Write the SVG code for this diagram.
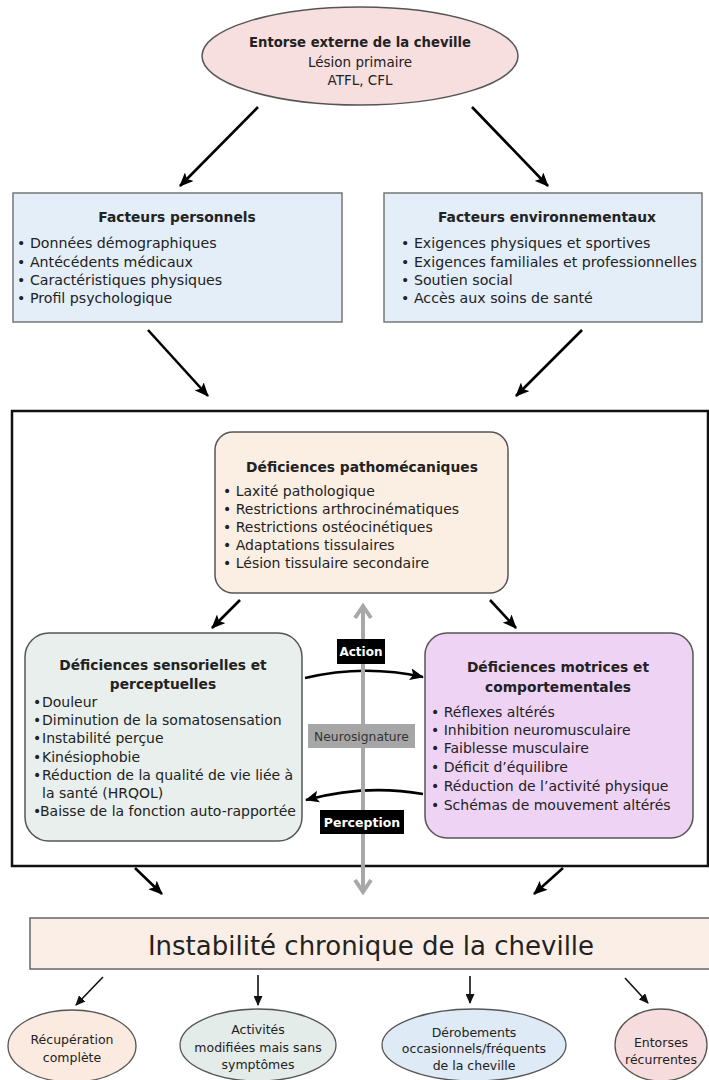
<svg xmlns="http://www.w3.org/2000/svg" width="709" height="1080" viewBox="0 0 709 1080">
<style>
text{font-family:"DejaVu Sans","Liberation Sans",sans-serif;fill:#222}
.t{font-weight:bold;font-size:13.8px;text-anchor:middle}
.b{font-size:14px}
.bf{font-size:14.2px}
.c{text-anchor:middle}
.s{font-size:12.5px;text-anchor:middle}
.conn{stroke:#000;stroke-width:2.6;fill:none}
.thin{stroke:#111;stroke-width:1.6;fill:none}
</style>
<defs>
<marker id="ah" markerUnits="userSpaceOnUse" markerWidth="14" markerHeight="12" refX="13" refY="6" orient="auto">
<path d="M0,0 L14,6 L0,12 L3,6 z" fill="#000"/>
</marker>
<marker id="ahs" markerUnits="userSpaceOnUse" markerWidth="10" markerHeight="9" refX="9" refY="4.5" orient="auto">
<path d="M0,0 L10,4.5 L0,9 z" fill="#111"/>
</marker>
</defs>
<rect width="709" height="1080" fill="#fff"/>

<g id="outer">
<rect x="12" y="411" width="696" height="455" fill="none" stroke="#111" stroke-width="2.5"/>
</g>

<g id="connectors">
<line class="conn" x1="258" y1="107" x2="180" y2="186" marker-end="url(#ah)"/>
<line class="conn" x1="472" y1="107" x2="548" y2="186" marker-end="url(#ah)"/>
<line class="conn" x1="148" y1="330" x2="208" y2="396" marker-end="url(#ah)"/>
<line class="conn" x1="582" y1="330" x2="516" y2="396" marker-end="url(#ah)"/>
<line class="conn" x1="240" y1="600" x2="212" y2="628" marker-end="url(#ah)"/>
<line class="conn" x1="490" y1="600" x2="516" y2="628" marker-end="url(#ah)"/>
<path class="conn" d="M305,678 Q364,664 423,677" marker-end="url(#ah)"/>
<path class="conn" d="M423,794 Q365,784 306,800" marker-end="url(#ah)"/>
<line class="conn" x1="135" y1="868" x2="162" y2="894" marker-end="url(#ah)"/>
<line class="conn" x1="563" y1="868" x2="534" y2="894" marker-end="url(#ah)"/>
<g id="neuro-axis" stroke="#a8a8a8" stroke-width="4" fill="none">
<line x1="363" y1="607" x2="363" y2="891"/>
<polyline points="355,618 363,606 371,618" stroke-linejoin="miter"/>
<polyline points="355,880 363,892 371,880" stroke-linejoin="miter"/>
</g>
<line class="thin" x1="103" y1="977" x2="76" y2="1005" marker-end="url(#ahs)"/>
<line class="thin" x1="258" y1="975" x2="258" y2="1005" marker-end="url(#ahs)"/>
<line class="thin" x1="470" y1="976" x2="470" y2="1003" marker-end="url(#ahs)"/>
<line class="thin" x1="625" y1="978" x2="648" y2="1003" marker-end="url(#ahs)"/>
</g>

<g id="entorse">
<ellipse cx="360" cy="56" rx="158" ry="49" fill="#f7dfdf" stroke="#555" stroke-width="1.5"/>
<text class="t" x="360" y="47" style="font-size:13.2px">Entorse externe de la cheville</text>
<text class="c" x="360" y="67" style="font-size:13.5px">Lésion primaire</text>
<text class="c" x="360" y="85" style="font-size:13.5px">ATFL, CFL</text>
</g>

<g id="facteurs-personnels">
<rect x="13" y="193" width="329" height="129" fill="#e3eef8" stroke="#777" stroke-width="1.5"/>
<text class="t" x="177" y="222">Facteurs personnels</text>
<text class="bf" x="17" y="248">• Données démographiques</text>
<text class="bf" x="17" y="267">• Antécédents médicaux</text>
<text class="bf" x="17" y="285">• Caractéristiques physiques</text>
<text class="bf" x="17" y="303">• Profil psychologique</text>
</g>

<g id="facteurs-environnementaux">
<rect x="384" y="193" width="318" height="129" fill="#e3eef8" stroke="#777" stroke-width="1.5"/>
<text class="t" x="547" y="222">Facteurs environnementaux</text>
<text class="bf" x="401" y="248">• Exigences physiques et sportives</text>
<text class="bf" x="401" y="267">• Exigences familiales et professionnelles</text>
<text class="bf" x="401" y="285">• Soutien social</text>
<text class="bf" x="401" y="303">• Accès aux soins de santé</text>
</g>

<g id="pathomecaniques">
<rect x="215" y="432" width="293" height="161" rx="18" fill="#fbeee3" stroke="#555" stroke-width="1.5"/>
<text class="t" x="362" y="472">Déficiences pathomécaniques</text>
<text class="b" x="223" y="496">• Laxité pathologique</text>
<text class="b" x="223" y="514">• Restrictions arthrocinématiques</text>
<text class="b" x="223" y="532">• Restrictions ostéocinétiques</text>
<text class="b" x="223" y="550">• Adaptations tissulaires</text>
<text class="b" x="223" y="568">• Lésion tissulaire secondaire</text>
</g>

<g id="sensorielles">
<rect x="25" y="633" width="277" height="208" rx="24" fill="#e8efed" stroke="#555" stroke-width="1.5"/>
<text class="t" x="163" y="670">Déficiences sensorielles et</text>
<text class="t" x="163" y="689">perceptuelles</text>
<text class="b" x="33" y="707">•<tspan x="42">Douleur</tspan></text>
<text class="b" x="33" y="725">•<tspan x="42">Diminution de la somatosensation</tspan></text>
<text class="b" x="33" y="743">•<tspan x="42">Instabilité perçue</tspan></text>
<text class="b" x="33" y="762">•<tspan x="42">Kinésiophobie</tspan></text>
<text class="b" x="33" y="780">•<tspan x="42">Réduction de la qualité de vie liée à</tspan></text>
<text class="b" x="42" y="798">la santé (HRQOL)</text>
<text class="b" x="33" y="816">•<tspan x="40">Baisse de la fonction auto-rapportée</tspan></text>
</g>

<g id="motrices">
<rect x="425" y="633" width="268" height="205" rx="22" fill="#efd3f5" stroke="#555" stroke-width="1.5"/>
<text class="t" x="558" y="672">Déficiences motrices et</text>
<text class="t" x="558" y="692">comportementales</text>
<text class="b" x="431" y="717">• Réflexes altérés</text>
<text class="b" x="431" y="735">• Inhibition neuromusculaire</text>
<text class="b" x="431" y="753">• Faiblesse musculaire</text>
<text class="b" x="431" y="772">• Déficit d’équilibre</text>
<text class="b" x="431" y="791">• Réduction de l’activité physique</text>
<text class="b" x="431" y="810">• Schémas de mouvement altérés</text>
</g>

<g id="label-action">
<rect x="337" y="639" width="48" height="25" fill="#000"/>
<text x="361" y="656" style="font-size:12px;font-weight:bold;fill:#fff;text-anchor:middle">Action</text>
</g>
<g id="label-neurosignature">
<rect x="308" y="724" width="107" height="24" fill="#a6a6a6"/>
<text x="361.5" y="741" style="font-size:12.3px;fill:#333;text-anchor:middle">Neurosignature</text>
</g>
<g id="label-perception">
<rect x="320" y="810" width="84" height="24" fill="#000"/>
<text x="362" y="827" style="font-size:12.5px;font-weight:bold;fill:#fff;text-anchor:middle">Perception</text>
</g>

<g id="instabilite">
<rect x="30" y="918" width="680" height="51" fill="#fbeee6" stroke="#666" stroke-width="1.5"/>
<text x="371" y="955" style="font-size:26px;text-anchor:middle">Instabilité chronique de la cheville</text>
</g>

<g id="recuperation">
<ellipse cx="72" cy="1046" rx="64" ry="36" fill="#faeadf" stroke="#555" stroke-width="1.3"/>
<text class="s" x="72" y="1044">Récupération</text>
<text class="s" x="72" y="1062">complète</text>
</g>
<g id="activites">
<ellipse cx="258" cy="1045" rx="78" ry="36" fill="#e4ecea" stroke="#555" stroke-width="1.3"/>
<text class="s" x="258" y="1034">Activités</text>
<text class="s" x="258" y="1052">modifiées mais sans</text>
<text class="s" x="258" y="1069">symptômes</text>
</g>
<g id="derobements">
<ellipse cx="474" cy="1045" rx="92" ry="36" fill="#deeaf6" stroke="#555" stroke-width="1.3"/>
<text class="s" x="474" y="1037">Dérobements</text>
<text class="s" x="474" y="1053">occasionnels/fréquents</text>
<text class="s" x="474" y="1070">de la cheville</text>
</g>
<g id="entorses-recurrentes">
<ellipse cx="661" cy="1045" rx="46" ry="36" fill="#f6dcdc" stroke="#555" stroke-width="1.3"/>
<text class="s" x="661" y="1047">Entorses</text>
<text class="s" x="661" y="1064">récurrentes</text>
</g>
</svg>
